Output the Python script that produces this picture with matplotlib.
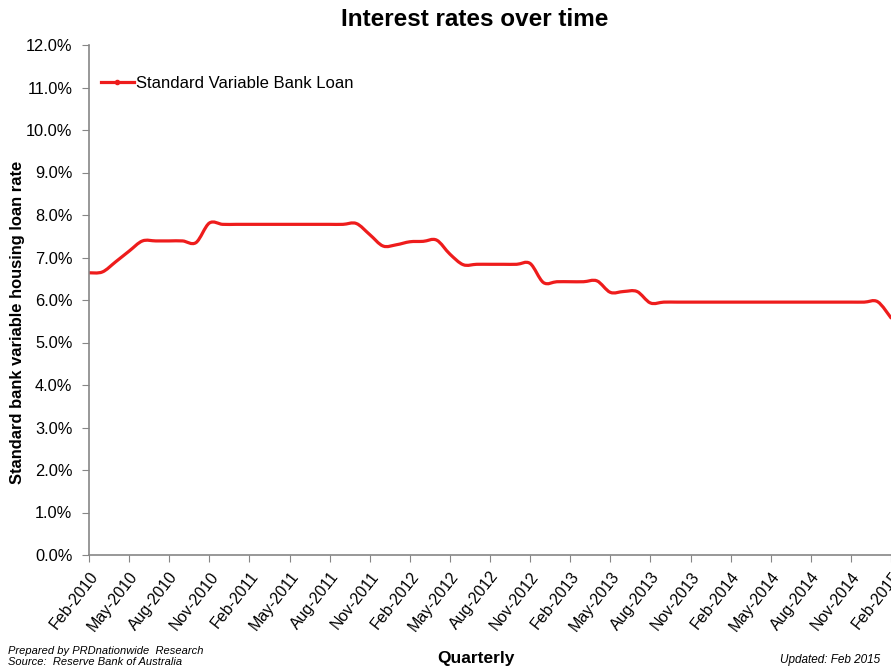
import numpy as np
import matplotlib.pyplot as plt
from matplotlib.path import Path
from matplotlib.patches import PathPatch
from matplotlib.lines import Line2D
from matplotlib.ticker import FuncFormatter

plt.rcParams['font.family'] = ['Liberation Sans', 'DejaVu Sans']

# ── Datos (mensuales, feb-2010 .. feb-2015) ─────────────────────────────────
rates = [6.64, 6.66, 6.90, 7.15, 7.39, 7.39, 7.39, 7.39, 7.35, 7.81,
         7.78, 7.78, 7.78, 7.78, 7.78, 7.78, 7.78, 7.78, 7.78, 7.78,
         7.80, 7.54, 7.27, 7.30, 7.37, 7.38, 7.41, 7.08, 6.83, 6.84,
         6.84, 6.84, 6.84, 6.86, 6.41, 6.43, 6.43, 6.43, 6.45, 6.18,
         6.20, 6.20, 5.93, 5.95, 5.95, 5.95, 5.95, 5.95, 5.95, 5.95,
         5.95, 5.95, 5.95, 5.95, 5.95, 5.95, 5.95, 5.95, 5.95, 5.96,
         5.58]
months = np.arange(len(rates))

tick_labels = ['Feb-2010', 'May-2010', 'Aug-2010', 'Nov-2010',
               'Feb-2011', 'May-2011', 'Aug-2011', 'Nov-2011',
               'Feb-2012', 'May-2012', 'Aug-2012', 'Nov-2012',
               'Feb-2013', 'May-2013', 'Aug-2013', 'Nov-2013',
               'Feb-2014', 'May-2014', 'Aug-2014', 'Nov-2014',
               'Feb-2015']
tick_pos = np.arange(0, len(rates), 3)

RED = '#EE1C1C'
GREY = '#868686'

# ── Curva suavizada tipo Excel (Bezier) ─────────────────────────────────────
x = months.astype(float)
y = np.array(rates)
verts = [(x[0], y[0])]
codes = [Path.MOVETO]
n = len(x)
for i in range(n - 1):
    p0 = np.array([x[max(i - 1, 0)], y[max(i - 1, 0)]])
    p1 = np.array([x[i], y[i]])
    p2 = np.array([x[i + 1], y[i + 1]])
    p3 = np.array([x[min(i + 2, n - 1)], y[min(i + 2, n - 1)]])
    c1 = p1 + (p2 - p0) / 6
    c2 = p2 - (p3 - p1) / 6
    verts += [tuple(c1), tuple(c2), tuple(p2)]
    codes += [Path.CURVE4] * 3

# ── Figura ──────────────────────────────────────────────────────────────────
fig = plt.figure(figsize=(8.91, 6.70), dpi=100)
ax = fig.add_axes([89 / 891, 1 - 555 / 670, 802 / 891, 510 / 670])

ax.add_patch(PathPatch(Path(verts, codes), facecolor='none',
                       edgecolor=RED, lw=2.3, capstyle='round',
                       joinstyle='round'))

ax.set_xlim(0, len(rates) - 1)
ax.set_ylim(0, 12)
ax.set_yticks(np.arange(0, 13, 1))
ax.yaxis.set_major_formatter(FuncFormatter(lambda v, p: f'{v:.1f}%'))
ax.set_xticks(tick_pos)
ax.set_xticklabels(tick_labels, rotation=52, ha='right',
                   rotation_mode='anchor', fontsize=11.5)
ax.tick_params(axis='y', labelsize=11.8, length=5, color=GREY, pad=7)
ax.tick_params(axis='x', length=5, color=GREY, pad=5)

for s in ['top', 'right']:
    ax.spines[s].set_visible(False)
for s in ['left', 'bottom']:
    ax.spines[s].set_color(GREY)
    ax.spines[s].set_linewidth(1.2)

handle = Line2D([], [], color=RED, lw=2.3, marker='o', markersize=3)
ax.legend([handle], ['Standard Variable Bank Loan'], loc='center left',
          bbox_to_anchor=(0.0, 0.924), frameon=False, fontsize=12,
          handlelength=2.0, handletextpad=0.1, borderaxespad=0.3)

# ── Textos ──────────────────────────────────────────────────────────────────
fig.text(475 / 891, 1 - 20 / 670, 'Interest rates over time',
         ha='center', va='center', fontsize=17.5, fontweight='bold')
fig.text(18 / 891, 1 - 322 / 670, 'Standard bank variable housing loan rate',
         ha='center', va='center', rotation=90, fontsize=11.9,
         fontweight='bold')
fig.text(476 / 891, 1 - 659 / 670, 'Quarterly', ha='center', va='center',
         fontsize=12.5, fontweight='bold')
fig.text(8 / 891, 1 - 651 / 670, 'Prepared by PRDnationwide  Research',
         ha='left', va='center', fontsize=8, style='italic')
fig.text(8 / 891, 1 - 662 / 670, 'Source:  Reserve Bank of Australia',
         ha='left', va='center', fontsize=8, style='italic')
fig.text(880 / 891, 1 - 660 / 670, 'Updated: Feb 2015', ha='right',
         va='center', fontsize=8.5, style='italic')

fig.savefig('out.png', dpi=100)
